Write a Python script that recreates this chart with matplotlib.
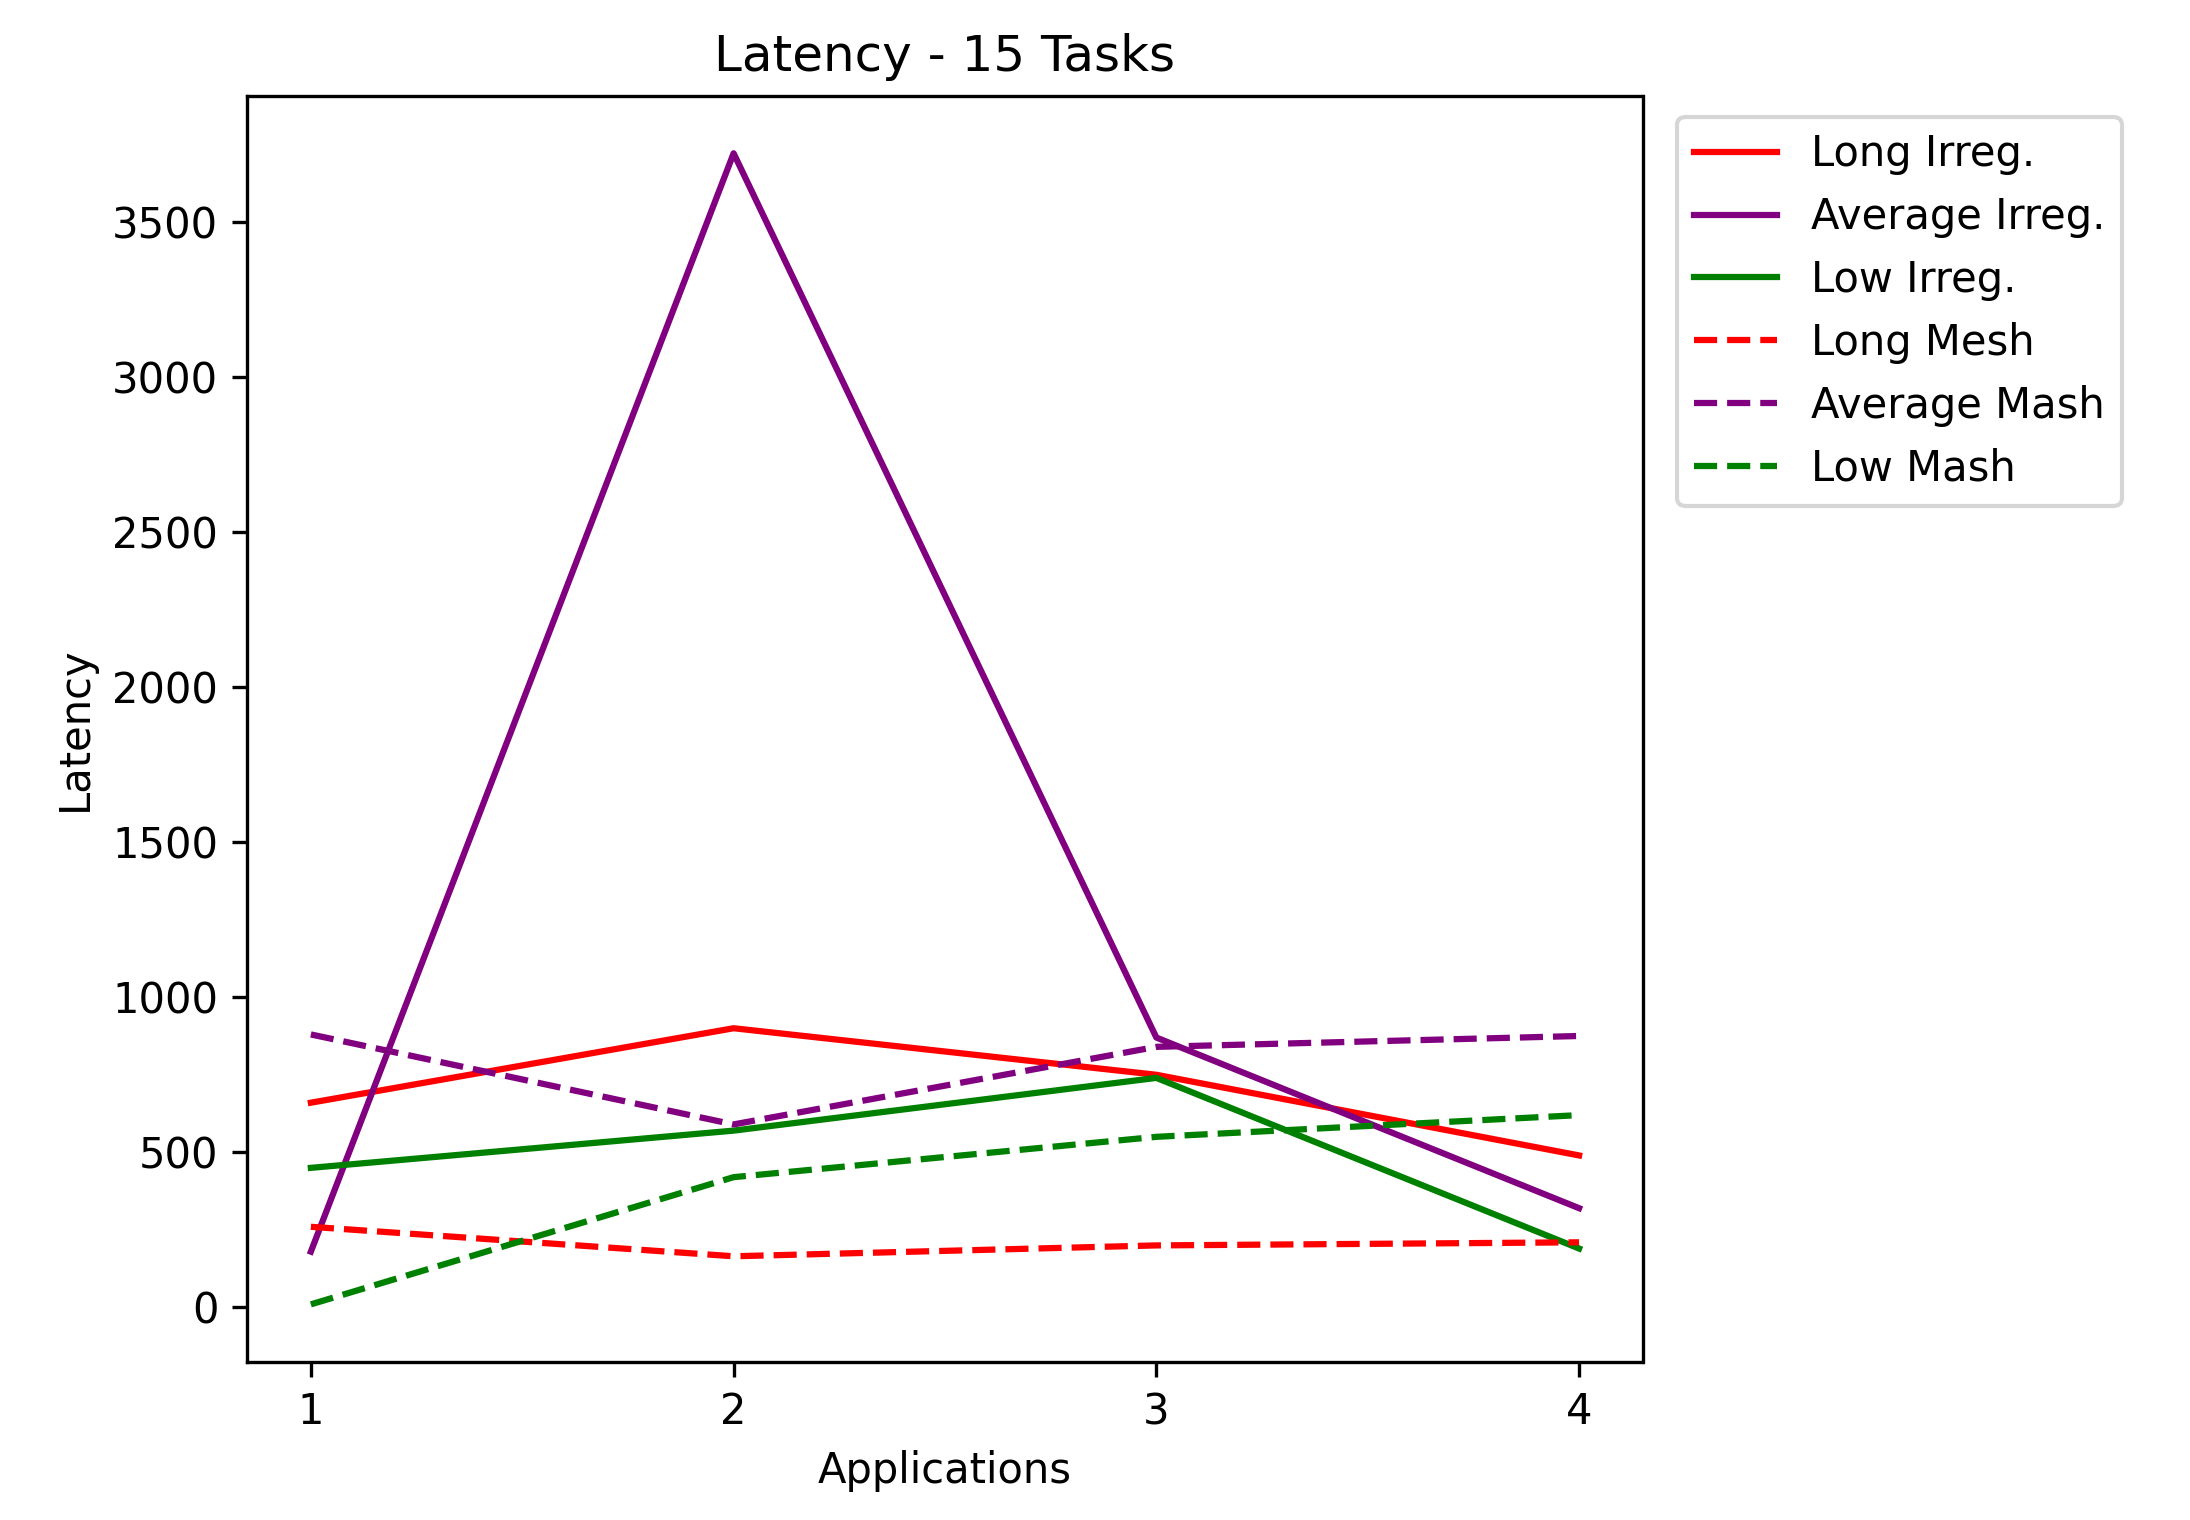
import matplotlib
matplotlib.use('Agg')
import matplotlib.pyplot as plt

apps = [1, 2, 3, 4]
long_irreg = [660, 900, 750, 490]
avg_irreg = [180, 3720, 870, 320]
low_irreg = [450, 570, 740, 190]
long_mesh = [260, 165, 200, 210]
avg_mash = [880, 590, 840, 875]
low_mash = [10, 420, 550, 620]

fig = plt.figure(figsize=(7.3, 5.0667), dpi=300)
ax = fig.add_axes([0.113, 0.104, 0.637, 0.833])
ax.plot(apps, long_irreg, color='red', label='Long Irreg.')
ax.plot(apps, avg_irreg, color='purple', label='Average Irreg.')
ax.plot(apps, low_irreg, color='green', label='Low Irreg.')
ax.plot(apps, long_mesh, color='red', linestyle='--', label='Long Mesh')
ax.plot(apps, avg_mash, color='purple', linestyle='--', label='Average Mash')
ax.plot(apps, low_mash, color='green', linestyle='--', label='Low Mash')
ax.set_xticks(apps)
ax.set_xlabel('Applications')
ax.set_ylabel('Latency')
ax.set_title('Latency - 15 Tasks')
ax.legend(loc='upper left', bbox_to_anchor=(1.01, 1.0))
fig.savefig('out.png')
